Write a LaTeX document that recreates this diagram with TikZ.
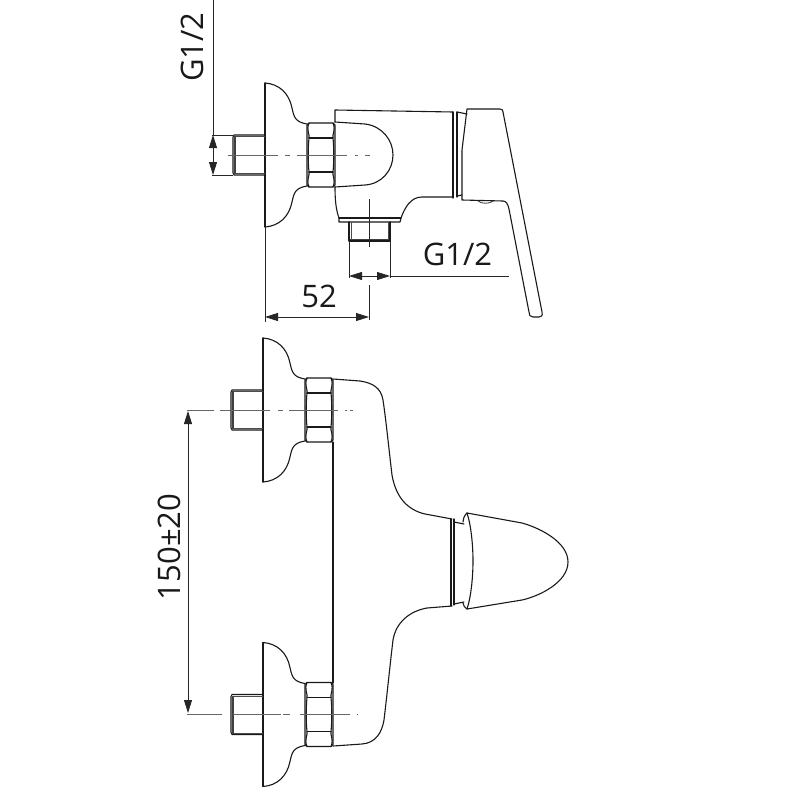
\documentclass[tikz,border=0pt]{standalone}
\usepackage{fontspec}
\setmainfont{Open Sans}
\usetikzlibrary{arrows.meta}
\tikzset{
  outline/.style={line width=1.1pt,black!90,line join=round,line cap=round},
  thread/.style={line width=1.9pt,black!75},
  dimline/.style={line width=0.8pt,black!85},
  dimarrow/.style={dimline,{Triangle[length=13pt,width=8pt]}-{Triangle[length=13pt,width=8pt]}},
  axisline/.style={line width=0.9pt,black!60},
  label/.style={font=\fontsize{31}{31}\selectfont,text=black!90,inner sep=0pt}
}
% flange, nut and threaded stub around a horizontal axis at y=0, flange at x=0
\newcommand{\wallpart}{%
  \draw[outline] (0,-72) -- (0,72);
  \draw[outline] (0,-72) .. controls (14,-71) and (24,-62) .. (27,-47)
     .. controls (29,-38) and (30,-33) .. (42,-31);
  \draw[outline] (0,72) .. controls (14,71) and (24,62) .. (27,47)
     .. controls (29,38) and (30,33) .. (42,31);
  \draw[outline] (44,-32) -- (68,-32) -- (70,-30) -- (70,30) -- (68,32) -- (44,32) -- (42,30) -- (42,-30) -- cycle;
  \draw[outline] (44,-17) -- (68,-17) (44,17) -- (68,17);
  \draw[outline] (44,-32) .. controls (41,-25) and (45,-20) .. (44,-17) .. controls (43,-8) and (43,8) .. (44,17) .. controls (45,20) and (41,25) .. (44,32);
  \draw[outline] (68,-32) .. controls (71,-25) and (67,-20) .. (68,-17) .. controls (69,-8) and (69,8) .. (68,17) .. controls (67,20) and (71,25) .. (68,32);
  \draw[outline] (0,-20) -- (-31,-20) -- (-32,-18) -- (-32,18) -- (-31,20) -- (0,20);
  \draw[thread] (-30,-19) -- (-30,19);
  \draw[line width=0.7pt,black!70] (0,-18.5) -- (-30,-18.5) (0,18.5) -- (-30,18.5);
}
\begin{document}
\begin{tikzpicture}[x=1pt,y=-1pt]
\useasboundingbox (0,0) rectangle (800,800);
\fill[white] (0,0) rectangle (800,800);

% ---------- side view ----------
\begin{scope}[shift={(265,155)}]\wallpart\end{scope}
% axis
\draw[axisline] (228,155) -- (278,155) (285,155) -- (290,155) (297,155) -- (347,155) (355,155) -- (358,155) (365,155) -- (370,155);
% dome
\draw[outline] (335,122) -- (365,124) .. controls (382,126) and (393,140) .. (393,155)
   .. controls (393,170) and (382,184) .. (365,185) -- (335,187);
% body
\draw[outline] (335,122) -- (335,110) -- (453,112);
\draw[outline] (335,187) .. controls (335,200) and (336,210) .. (339,218) -- (339,222) -- (400,222) -- (401,218)
   .. controls (405,207) and (411,197) .. (422,197) -- (453,197);
\draw[outline] (339,218) -- (401,218);
% collar
\draw[outline] (453,112) -- (453,198);
\draw[outline] (457,112) -- (457,197);
\draw[outline] (457,112) -- (467,114);
\draw[outline] (457,196) -- (462,195);
% lever
\draw[outline] (467,109) -- (500,109) .. controls (502,109) and (503,110) .. (503,112)
   -- (542,312) .. controls (543,316) and (541,317) .. (539,317) -- (533,317)
   .. controls (530,317) and (529,315) .. (529,312) -- (509,209)
   .. controls (508,204) and (506,201) .. (503,201) -- (462,200) -- (462,150) -- cycle;
\draw[line width=0.8pt,black!80] (478,201) .. controls (481,204) and (490,204) .. (493,201);
% outlet
\draw[outline] (349,222) -- (349,241) -- (390,241) -- (390,222);
\draw[thread] (350,239.5) -- (389,239.5);
\draw[line width=0.7pt,black!70] (351,222) -- (351,239) (388,222) -- (388,239);
\draw[dimline] (369,199) -- (369,247);
% dimensions
\draw[dimline] (213,0) -- (213,135);
\draw[dimline] (212,135) -- (233,135) (212,175) -- (233,175);
\draw[dimarrow] (213,135) -- (213,175);
\draw[dimline] (349,241) -- (349,278) (390,241) -- (390,278);
\draw[dimarrow] (349,276) -- (390,276);
\draw[dimline] (390,276) -- (509,276);
\draw[dimline] (265,226) -- (265,322) (369,285) -- (369,320);
\draw[dimarrow] (265,317) -- (369,317);
\node[label,rotate=90] (gleft) at (192,47) {G1/2};
\node[label] (gright) at (457.5,254) {G1/2};
\node[label] (len) at (319,296) {52};

% ---------- front view ----------
\begin{scope}[shift={(263,410)}]\wallpart\end{scope}
\begin{scope}[shift={(263,714.5)}]\wallpart\end{scope}
% axes
\draw[axisline] (187,410) -- (214,410) (220,410) -- (270,410) (278,410) -- (283,410) (289,410) -- (338,410) (345,410) -- (347,410) (350,410) -- (353,410);
\draw[axisline] (187,714) -- (222,714) (233,714) -- (281,714) (283,714) -- (290,714) (300,714) -- (350,714) (357,714) -- (358,714);
% back line
\draw[outline] (333,442) -- (333,683);
% body
\draw[outline] (333,379) -- (360,381) .. controls (373,383) and (381,388) .. (383,400)
   .. controls (386,420) and (389,450) .. (392,475)
   .. controls (396,498) and (408,510) .. (425,514) -- (452,519);
\draw[outline] (333,746) -- (362,744) .. controls (376,743) and (382,732) .. (384,720)
   .. controls (387,695) and (390,665) .. (393,640)
   .. controls (396,622) and (410,611) .. (427,608) -- (452,606);
% collar
\draw[outline] (451,519) -- (451,606);
\draw[outline] (454,519) -- (454,605);
\draw[outline] (454,522) -- (464,524);
\draw[outline] (454,604) -- (464,602);
% handle
\draw[outline] (467,513) -- (522,523) .. controls (540,528) and (568,542) .. (568,562)
   .. controls (568,582) and (540,596) .. (522,600) -- (467,609);
\draw[outline] (467,513) .. controls (471,525) and (473,545) .. (473,561)
   .. controls (473,577) and (471,597) .. (467,609);
\draw[outline] (467,513) .. controls (464,516) and (463,519) .. (463,522);
\draw[outline] (463,603) .. controls (463,605) and (465,608) .. (467,609);
% dimension
\draw[dimarrow] (188,411) -- (188,713);
\node[label,rotate=90] (pitch) at (169,547) {150±20};
\end{tikzpicture}
\end{document}
